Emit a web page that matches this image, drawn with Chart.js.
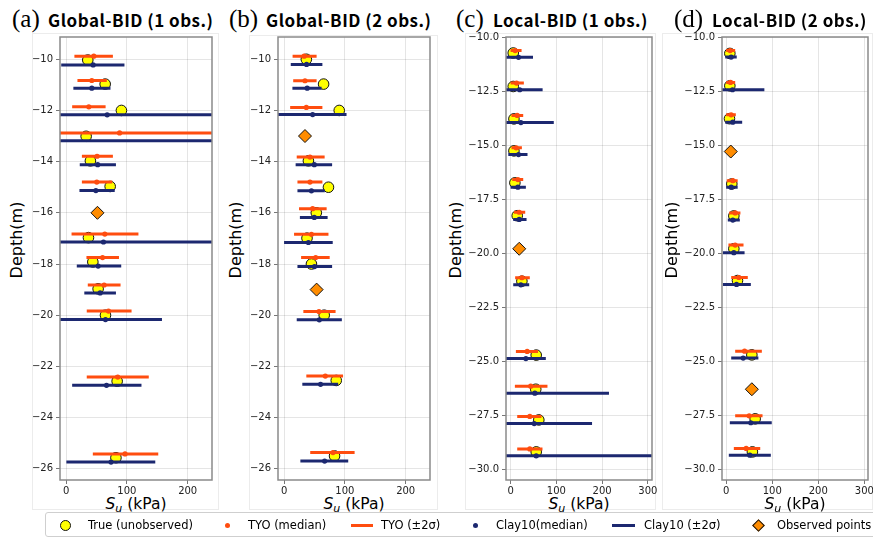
<!DOCTYPE html>
<html>
<head>
<meta charset="utf-8">
<script src="https://cdn.jsdelivr.net/npm/chart.js@4.4.1/dist/chart.umd.min.js"></script>
<style>
  body { margin: 0; width: 873px; height: 538px; background: #fff; position: relative; overflow: hidden;
         font-family: "DejaVu Sans", sans-serif; color: #000; }
  .pbox { position: absolute; border: 1px solid #ececec; box-sizing: border-box; }
  canvas { position: absolute; }
  .tag { position: absolute; font-family: "Liberation Serif", serif; font-size: 25px; line-height: 30px; white-space: nowrap; }
  .name { position: absolute; font-family: "Noto Sans CJK JP", sans-serif; font-weight: bold; font-size: 17px;
          letter-spacing: 0.5px; line-height: 26px; white-space: nowrap; }
  .ylab { position: absolute; width: 120px; height: 20px; line-height: 20px; text-align: center; font-size: 16px; transform: rotate(-90deg); }
  .xlab { position: absolute; width: 120px; text-align: center; font-size: 15.5px; line-height: 18px; white-space: nowrap; }
  .xlab sub { font-size: 11px; vertical-align: -3px; }
  .legend { position: absolute; left: 45px; top: 512px; width: 840px; height: 25px; border: 1px solid #cfcfcf;
            border-radius: 3px; box-sizing: border-box; }
  .lg { position: absolute; top: 4px; font-size: 11.5px; line-height: 16px; white-space: nowrap; }
  .sym { position: absolute; box-sizing: border-box; }
</style>
</head>
<body>
<script>
// ---- shared axes ----
const X_TICKS_AB = [0, 100, 200];
const X_TICKS_CD = [0, 100, 200, 300];
const Y_TICKS_AB = [-10, -12, -14, -16, -18, -20, -22, -24, -26];
const Y_TICKS_CD = [-10, -12.5, -15, -17.5, -20, -22.5, -25, -27.5, -30];

// ---- (a) Global-BID (1 obs.) ----
const trueDepthA = [-10.03, -10.97, -12.0, -13.01, -13.97, -14.97, -16.97, -17.92, -18.97, -20.0, -22.58, -25.57];
const trueSuA    = [35.7, 64.3, 91, 33, 40, 72.5, 36.8, 44, 52.7, 64.8, 84, 82];
const tyoDepthA  = [-9.88, -10.83, -11.86, -12.88, -13.79, -14.8, -16.83, -17.75, -18.82, -19.84, -22.42, -25.42];
const tyoMedA    = [45.6, 42.3, 37.4, 88, 51, 50.5, 63.7, 60, 62.6, 69.8, 85, 97];
const tyoLoA     = [13.7, 18.7, 10, -60, 26, 26, 9, 33.5, 35.7, 34, 34, 44];
const tyoHiA     = [77, 67, 65, 300, 77, 76, 119, 87, 89.6, 107.7, 136, 151.6];
const clayDepthA = [-10.22, -11.13, -12.17, -13.18, -14.12, -15.13, -17.14, -18.08, -19.13, -20.17, -22.74, -25.74];
const clayMedA   = [44.5, 42.3, 67.6, null, 52, 49, 61.5, 52.7, 56, 64.8, 66.5, 74];
const clayLoA    = [-8, 12, -60, -60, 22.5, 22, -60, 17.6, 30, -11, 10, 0.5];
const clayHiA    = [96, 73, 300, 300, 82, 80, 300, 90.7, 82, 157.7, 124, 146.7];
const obsDepthA  = [-16.0];
const obsSuA     = [51.6];

// ---- (b) Global-BID (2 obs.) ----
const trueDepthB = [-10.0, -10.97, -12.0, -13.97, -15.0, -16.0, -16.99, -18.0, -20.0, -22.55, -25.5];
const trueSuB    = [36.6, 65, 90.7, 40, 73, 53, 37.7, 45, 66, 85.8, 83];
const tyoDepthB  = [-9.88, -10.84, -11.88, -13.82, -14.8, -15.84, -16.84, -17.75, -19.86, -22.38, -25.37];
const tyoMedB    = [33, 34.4, 36.6, 42.6, 42.6, 47, 45, 52, 57.4, 67.8, 80.4];
const tyoLoB     = [14, 15, 10, 20.8, 22, 24.6, 16.4, 28, 31.7, 36.6, 43];
const tyoHiB     = [53.5, 53.5, 63, 66.7, 63, 70, 73, 75, 84.7, 97, 116];
const clayDepthB = [-10.2, -11.13, -12.16, -14.12, -15.14, -16.18, -17.16, -18.1, -20.18, -22.7, -25.7];
const clayMedB   = [37, 38, 47, 49.7, 45, 49.7, 40, 50, 58, 60, 66.7];
const clayLoB    = [11, 13.7, -15, 19, 22, 26, 0, 22, 20.8, 30, 26.8];
const clayHiB    = [63, 61.7, 102.7, 79, 67, 71.6, 80, 79, 95, 89, 105.5];
const obsDepthB  = [-13.0, -19.0];
const obsSuB     = [34.4, 53.5];

// ---- (c) Local-BID (1 obs.) ----
const trueDepthC = [-10.74, -12.29, -13.79, -15.27, -16.75, -18.27, -21.3, -24.72, -26.3, -27.72, -29.2];
const trueSuC    = [5.8, 5.8, 7.3, 7.3, 9.4, 14.5, 24.7, 56, 55, 61.7, 56];
const tyoDepthC  = [-10.63, -12.13, -13.63, -15.13, -16.6, -18.11, -21.14, -24.55, -26.16, -27.56, -29.06];
const tyoMedC    = [10, 13, 14.5, 12.3, 16, 18.9, 24.7, 36.3, 44, 42, 42];
const tyoLoC     = [0, 0, 2, 2, 3.6, 7.3, 10, 11.6, 9.4, 14.5, 14.5];
const tyoHiC     = [24, 29, 27.6, 24.7, 27.6, 32, 42, 60, 80.6, 67.5, 69.7];
const clayDepthC = [-10.94, -12.44, -13.96, -15.44, -16.95, -18.44, -21.47, -24.88, -26.48, -27.89, -29.38];
const clayMedC   = [17.4, 20, 22.5, 17.4, 16, 18.9, 22.5, 33.4, 53, 51.6, 56];
const clayLoC    = [-20, -20, -20, -5, 0, 5.8, 5.8, -20, -20, -20, -20];
const clayHiC    = [49, 70, 94.4, 37, 33.4, 34.9, 40.7, 77, 215, 178, 350];
const obsDepthC  = [-19.8];
const obsSuC     = [18.9];

// ---- (d) Local-BID (2 obs.) ----
const trueDepthD = [-10.76, -12.26, -13.78, -16.8, -18.28, -19.8, -21.27, -24.71, -27.67, -29.2];
const trueSuD    = [8, 8, 7.2, 12.3, 16.7, 16.7, 24.6, 55.8, 63, 57];
const tyoDepthD  = [-10.63, -12.1, -13.6, -16.65, -18.14, -19.63, -21.13, -24.54, -27.53, -29.04];
const tyoMedD    = [8.7, 9.4, 10.9, 14.5, 19.6, 19.6, 27.5, 40, 50, 43.5];
const tyoLoD     = [0, 0, 0, 1.4, 6.5, 5, 11, 19.6, 19.6, 16.7];
const tyoHiD     = [19.6, 19.6, 21, 25, 31, 37.7, 47, 77.5, 79, 74];
const clayDepthD = [-10.93, -12.44, -13.94, -16.95, -18.47, -19.98, -21.45, -24.86, -27.85, -29.35];
const clayMedD   = [11, 13.8, 14.5, 11, 14.5, 16.7, 22.5, 37, 53.6, 51.4];
const clayLoD    = [-2, -20, -2, 0, 3.6, -7, -7, 11, 8, 5.8];
const clayHiD    = [23, 83, 34.8, 25, 29.7, 40, 53.6, 70, 99, 97];
const obsDepthD  = [-15.3, -26.3];
const obsSuD     = [10, 55.8];

const TYO_COLOR = '#ff4d0f';
const CLAY_COLOR = '#1c2870';

const panels = [
  { tag: '(a)', name: 'Global-BID (1 obs.)', left: 60, right: 212, xMin: -10, xMax: 240, yMin: -26.44, yMax: -9.13,
    xTicks: X_TICKS_AB, yTicks: Y_TICKS_AB, dec: 0, tagX: 12, nameX: 48, ylabX: 17, box: [32, 33, 219, 510],
    tD: trueDepthA, tS: trueSuA, yD: tyoDepthA, yM: tyoMedA, yL: tyoLoA, yH: tyoHiA,
    cD: clayDepthA, cM: clayMedA, cL: clayLoA, cH: clayHiA, oD: obsDepthA, oS: obsSuA },
  { tag: '(b)', name: 'Global-BID (2 obs.)', left: 278, right: 430, xMin: -10, xMax: 240, yMin: -26.44, yMax: -9.13,
    xTicks: X_TICKS_AB, yTicks: Y_TICKS_AB, dec: 0, tagX: 229, nameX: 266, ylabX: 236, box: [249, 35, 438, 510],
    tD: trueDepthB, tS: trueSuB, yD: tyoDepthB, yM: tyoMedB, yL: tyoLoB, yH: tyoHiB,
    cD: clayDepthB, cM: clayMedB, cL: clayLoB, cH: clayHiB, oD: obsDepthB, oS: obsSuB },
  { tag: '(c)', name: 'Local-BID (1 obs.)', left: 506, right: 652, xMin: -10, xMax: 309, yMin: -30.5, yMax: -10,
    xTicks: X_TICKS_CD, yTicks: Y_TICKS_CD, dec: 1, tagX: 456, nameX: 493, ylabX: 456, box: [465, 33, 656, 510],
    tD: trueDepthC, tS: trueSuC, yD: tyoDepthC, yM: tyoMedC, yL: tyoLoC, yH: tyoHiC,
    cD: clayDepthC, cM: clayMedC, cL: clayLoC, cH: clayHiC, oD: obsDepthC, oS: obsSuC },
  { tag: '(d)', name: 'Local-BID (2 obs.)', left: 722, right: 868, xMin: -9, xMax: 308, yMin: -30.5, yMax: -10,
    xTicks: X_TICKS_CD, yTicks: Y_TICKS_CD, dec: 1, tagX: 674, nameX: 712, ylabX: 672, box: [662, 33, 873, 510],
    tD: trueDepthD, tS: trueSuD, yD: tyoDepthD, yM: tyoMedD, yL: tyoLoD, yH: tyoHiD,
    cD: clayDepthD, cM: clayMedD, cL: clayLoD, cH: clayHiD, oD: obsDepthD, oS: obsSuD }
];

const PLOT_TOP = 37, PLOT_BOTTOM = 480;
const CANVAS_TOP = 27, AXIS_W = 40, PAD_R = 14, X_AXIS_H = 20;

// horizontal error bars: one line dataset, segments split by NaN gaps
function barPoints(depth, lo, hi) {
  const pts = [];
  depth.forEach((d, i) => {
    pts.push({ x: lo[i], y: d }, { x: hi[i], y: d }, { x: NaN, y: NaN });
  });
  return pts;
}
function points(depth, su) {
  return depth.map((d, i) => ({ x: su[i], y: d }));
}
function tickLabel(v, dec) {
  return v.toFixed(dec).replace('-', '\u2212');
}

// draws the plot frame on top of the data, like matplotlib spines
const framePlugin = {
  id: 'frame',
  afterDatasetsDraw(chart) {
    const { ctx, chartArea: a } = chart;
    ctx.save();
    ctx.strokeStyle = '#8a8a8a';
    ctx.lineWidth = 1.5;
    ctx.strokeRect(a.left, a.top, a.right - a.left, a.bottom - a.top);
    ctx.restore();
  }
};

function addDiv(cls, html, style) {
  const el = document.createElement('div');
  el.className = cls;
  el.innerHTML = html;
  Object.assign(el.style, style);
  document.body.appendChild(el);
  return el;
}

panels.forEach(p => {
  const [bx0, by0, bx1, by1] = p.box;
  addDiv('pbox', '', { left: bx0 + 'px', top: by0 + 'px', width: (bx1 - bx0) + 'px', height: (by1 - by0) + 'px' });

  addDiv('tag', p.tag, { left: p.tagX + 'px', top: '4px' });
  addDiv('name', p.name, { left: p.nameX + 'px', top: '7px' });
  addDiv('ylab', 'Depth(m)', { left: (p.ylabX - 60) + 'px', top: (240 - 10) + 'px' });
  const cx = (p.left + p.right) / 2;
  addDiv('xlab', '<i>S<sub>u</sub></i> (kPa)', { left: (cx - 60) + 'px', top: '495px' });

  const canvas = document.createElement('canvas');
  const cl = p.left - AXIS_W;
  canvas.width = p.right + PAD_R - cl;
  canvas.height = PLOT_BOTTOM + X_AXIS_H - CANVAS_TOP;
  canvas.style.left = cl + 'px';
  canvas.style.top = CANVAS_TOP + 'px';
  document.body.appendChild(canvas);

  const tickFont = { family: 'DejaVu Sans', size: 10 };
  new Chart(canvas, {
    type: 'line',
    data: {
      datasets: [
        { label: 'Observed points', data: points(p.oD, p.oS), showLine: false, order: 0,
          pointStyle: 'rectRot', pointRadius: 6.5, backgroundColor: '#ff8c00', borderColor: '#111', borderWidth: 1 },
        { label: 'Clay10(median)', data: points(p.cD, p.cM), showLine: false, order: 1,
          pointRadius: 2.6, backgroundColor: CLAY_COLOR, borderWidth: 0 },
        { label: 'Clay10 (±2σ)', data: barPoints(p.cD, p.cL, p.cH), order: 2, clip: 0,
          borderColor: CLAY_COLOR, borderWidth: 3, pointRadius: 0, spanGaps: false, borderCapStyle: 'butt' },
        { label: 'TYO (median)', data: points(p.yD, p.yM), showLine: false, order: 3,
          pointRadius: 2.6, backgroundColor: TYO_COLOR, borderWidth: 0 },
        { label: 'TYO (±2σ)', data: barPoints(p.yD, p.yL, p.yH), order: 4, clip: 0,
          borderColor: TYO_COLOR, borderWidth: 3, pointRadius: 0, spanGaps: false, borderCapStyle: 'butt' },
        { label: 'True (unobserved)', data: points(p.tD, p.tS), showLine: false, order: 5,
          pointRadius: 5.3, backgroundColor: '#ffff00', borderColor: '#111', borderWidth: 1 }
      ]
    },
    options: {
      responsive: false,
      animation: false,
      events: [],
      layout: { padding: { top: PLOT_TOP - CANVAS_TOP, right: PAD_R, left: 0, bottom: 0 } },
      plugins: { legend: { display: false }, tooltip: { enabled: false } },
      scales: {
        x: {
          type: 'linear', min: p.xMin, max: p.xMax,
          afterBuildTicks: s => { s.ticks = p.xTicks.map(v => ({ value: v })); },
          afterFit: s => { s.height = X_AXIS_H; },
          grid: { color: 'rgba(0,0,0,0.1)', lineWidth: 1, tickLength: 4, tickColor: '#777' },
          border: { display: false },
          ticks: { font: tickFont, color: '#222', padding: 1, maxRotation: 0, autoSkip: false,
                   callback: v => tickLabel(v, 0) }
        },
        y: {
          type: 'linear', min: p.yMin, max: p.yMax,
          afterBuildTicks: s => { s.ticks = p.yTicks.map(v => ({ value: v })); },
          afterFit: s => { s.width = AXIS_W; },
          grid: { color: 'rgba(0,0,0,0.1)', lineWidth: 1, tickLength: 4, tickColor: '#777' },
          border: { display: false },
          ticks: { font: tickFont, color: '#222', padding: 3, autoSkip: false,
                   callback: v => tickLabel(v, p.dec) }
        }
      }
    },
    plugins: [framePlugin]
  });
});

// ---- legend ----
const legend = addDiv('legend', '', {});
function sym(style) {
  const el = document.createElement('div');
  el.className = 'sym';
  Object.assign(el.style, style);
  legend.appendChild(el);
}
function label(text, x) {
  const el = document.createElement('div');
  el.className = 'lg';
  el.textContent = text;
  el.style.left = (x - 45) + 'px';
  legend.appendChild(el);
}
const LY = 12; // legend symbol centre, relative to the box
sym({ left: (64 - 45 - 5.5) + 'px', top: (LY - 5.5) + 'px', width: '11px', height: '11px', borderRadius: '50%',
      background: '#ffff00', border: '1px solid #111' });
label('True (unobserved)', 87);
sym({ left: (226 - 45 - 2.5) + 'px', top: (LY - 2.5) + 'px', width: '5px', height: '5px', borderRadius: '50%', background: TYO_COLOR });
label('TYO (median)', 247);
sym({ left: (350 - 45) + 'px', top: (LY - 1.5) + 'px', width: '22px', height: '3px', background: TYO_COLOR });
label('TYO (±2σ)', 380);
sym({ left: (474 - 45 - 2.5) + 'px', top: (LY - 2.5) + 'px', width: '5px', height: '5px', borderRadius: '50%', background: CLAY_COLOR });
label('Clay10(median)', 495);
sym({ left: (611 - 45) + 'px', top: (LY - 1.5) + 'px', width: '23px', height: '3px', background: CLAY_COLOR });
label('Clay10 (±2σ)', 643);
sym({ left: (757 - 45 - 4.5) + 'px', top: (LY - 4.5) + 'px', width: '9px', height: '9px', background: '#ff8c00',
      border: '1px solid #111', transform: 'rotate(45deg)' });
label('Observed points', 776);
</script>
</body>
</html>
